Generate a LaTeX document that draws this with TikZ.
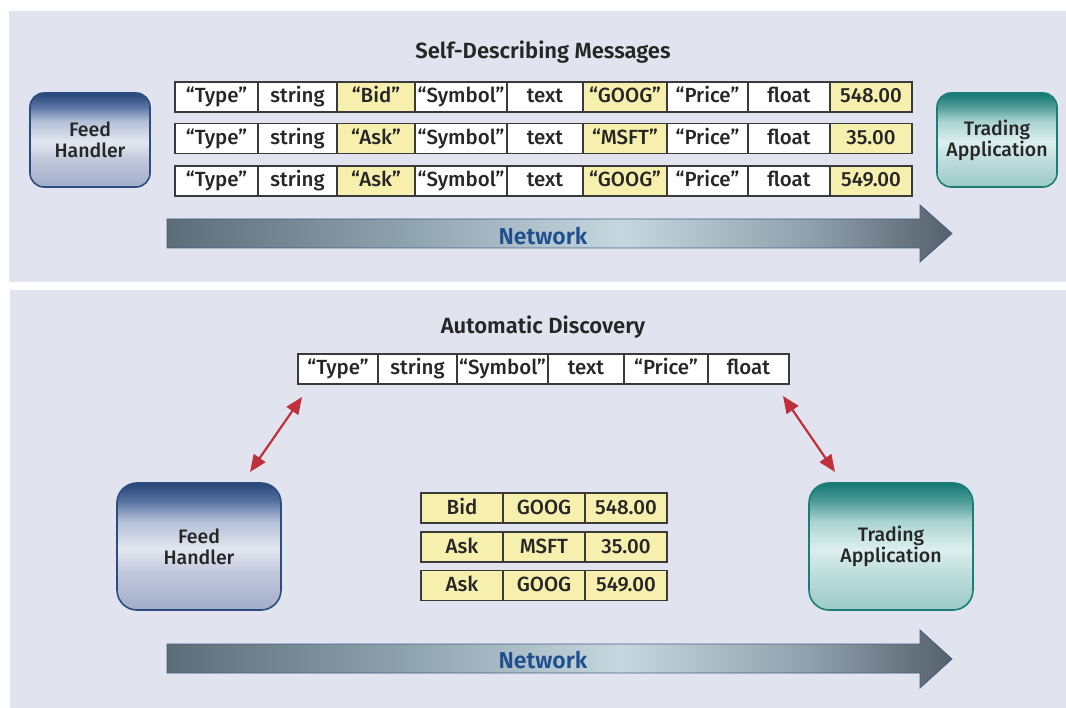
\documentclass[tikz,border=0pt]{standalone}
\usepackage{fontspec}
\setmainfont{Fira Sans}[UprightFont={* Medium},BoldFont={* SemiBold}]
\usetikzlibrary{arrows.meta}
\definecolor{panel}{HTML}{E1E4EF}
\definecolor{cellline}{HTML}{3A3A3A}
\definecolor{cellyel}{HTML}{F6EFAE}
\definecolor{txt}{HTML}{262626}
\definecolor{nettxt}{HTML}{1F4F8F}
\definecolor{netline}{HTML}{40608A}
\definecolor{arrred}{HTML}{C0303A}
\definecolor{fhline}{HTML}{2B4C80}
\definecolor{taline}{HTML}{1A7D78}
% feed handler shading
\definecolor{fhA}{HTML}{284679}
\definecolor{fhB}{HTML}{5670A0}
\definecolor{fhC}{HTML}{B4C0D8}
\definecolor{fhD}{HTML}{E3E7F0}
\definecolor{fhE}{HTML}{C2C9DD}
\definecolor{fhF}{HTML}{A3ADC9}
% trading shading
\definecolor{taA}{HTML}{137873}
\definecolor{taB}{HTML}{4C9A96}
\definecolor{taC}{HTML}{A9D3D1}
\definecolor{taD}{HTML}{DCEFEE}
\definecolor{taE}{HTML}{BFDEDD}
\definecolor{taF}{HTML}{9CCAC7}
% network shading
\definecolor{nA}{HTML}{5D6C79}
\definecolor{nB}{HTML}{8EA2AE}
\definecolor{nC}{HTML}{C6D7DF}
\definecolor{nD}{HTML}{8FA0AC}
\definecolor{nE}{HTML}{55606C}
\pgfdeclareverticalshading{fhshade}{100bp}{color(0bp)=(fhF); color(25bp)=(fhF); color(40bp)=(fhE); color(49bp)=(fhD); color(60bp)=(fhC); color(68bp)=(fhB); color(75bp)=(fhA); color(100bp)=(fhA)}
\pgfdeclareverticalshading{tashade}{100bp}{color(0bp)=(taF); color(25bp)=(taF); color(40bp)=(taE); color(49bp)=(taD); color(60bp)=(taC); color(68bp)=(taB); color(75bp)=(taA); color(100bp)=(taA)}
\pgfdeclarehorizontalshading{netshade}{100bp}{color(0bp)=(nA); color(25bp)=(nA); color(40bp)=(nB); color(54bp)=(nC); color(66bp)=(nD); color(75bp)=(nE); color(100bp)=(nE)}
\begin{document}
\begin{tikzpicture}[x=1pt,y=-1pt,
  cell/.style={draw=cellline,line width=1.2pt,inner sep=0pt,minimum height=30pt,
    text height=15pt,text depth=3pt,text=txt,font=\fontsize{20.5}{22}\selectfont},
  fhbox/.style={draw=fhline,line width=1.6pt,shade,shading=fhshade,align=center,
    text=txt,font=\fontsize{19.5}{21}\selectfont},
  tabox/.style={draw=taline,line width=1.6pt,shade,shading=tashade,align=center,
    text=txt,font=\fontsize{19.5}{21}\selectfont},
  title/.style={text=txt,font=\fontsize{22}{24}\selectfont\bfseries},
  netarrow/.style={draw=netline,line width=0.8pt,shade,shading=netshade},
  nettext/.style={text=nettxt,font=\fontsize{23}{24}\selectfont\bfseries},
  redarr/.style={draw=arrred,line width=2.2pt,{Triangle[length=17pt,width=14pt]}-{Triangle[length=17pt,width=14pt]}}
]
\useasboundingbox (0,0) rectangle (1066,708);
% panels
\fill[panel] (9,11) rectangle (1066,282);
\fill[panel] (10,290) rectangle (1066,708);

% ===== top panel =====
\node[title] (t1) at (543,52) {Self-Describing Messages};
\foreach \r/\yy/\a/\b/\c in {1/97/“Bid”/“GOOG”/548.00,2/138.5/“Ask”/“MSFT”/35.00,3/181/“Ask”/“GOOG”/549.00}{
  \foreach \i/\l/\rr/\t/\f in {1/175/258/“Type”/white,2/258/337/string/white,3/337/415/\a/cellyel,
      4/415/507/“Symbol”/white,5/507/583/text/white,6/583/667/\b/cellyel,
      7/667/748/“Price”/white,8/748/830/float/white,9/830/912/\c/cellyel}{
    \node[cell,fill=\f,minimum width={\rr-\l}] (m\r-\i) at ({(\l+\rr)/2},\yy) {\t};
  }
}
\node[fhbox,minimum width=120pt,minimum height=94pt,rounded corners=14pt] (fh1) at (90,140) {Feed\\Handler};
\node[tabox,minimum width=120pt,minimum height=94pt,rounded corners=14pt] (ta1) at (997,140) {Trading\\Application};
\path[netarrow] (167,219) -- (920,219) -- (920,205) -- (952,233.5) -- (920,262) -- (920,248) -- (167,248) -- cycle;
\node[nettext] (net1) at (543,236) {Network};

% ===== bottom panel =====
\node[title] (t2) at (543,327) {Automatic Discovery};
\foreach \i/\l/\rr/\t in {1/298/378/“Type”,2/378/457/string,3/457/548/“Symbol”,4/548/624/text,5/624/708/“Price”,6/708/789/float}{
  \node[cell,fill=white,minimum width={\rr-\l}] (s\i) at ({(\l+\rr)/2},369) {\t};
}
\foreach \r/\yy/\a/\b/\c in {1/508/Bid/GOOG/548.00,2/547/Ask/MSFT/35.00,3/585.5/Ask/GOOG/549.00}{
  \foreach \i/\l/\rr/\t in {1/421/503/\a,2/503/585/\b,3/585/667/\c}{
    \node[cell,fill=cellyel,minimum width={\rr-\l}] (d\r-\i) at ({(\l+\rr)/2},\yy) {\t};
  }
}
\node[fhbox,minimum width=164pt,minimum height=127pt,rounded corners=20pt] (fh2) at (199,546.5) {Feed\\Handler};
\node[tabox,minimum width=164pt,minimum height=127pt,rounded corners=20pt] (ta2) at (891,546.5) {Trading\\Application};
\coordinate (la1) at (250,472);
\coordinate (la2) at (302,397);
\coordinate (ra1) at (835,472);
\coordinate (ra2) at (783,396);
\draw[redarr] (la1) -- (la2);
\draw[redarr] (ra1) -- (ra2);
\path[netarrow] (167,644) -- (920,644) -- (920,630) -- (952,659) -- (920,688) -- (920,673) -- (167,673) -- cycle;
\node[nettext] (net2) at (543,660) {Network};
\end{tikzpicture}
\end{document}
